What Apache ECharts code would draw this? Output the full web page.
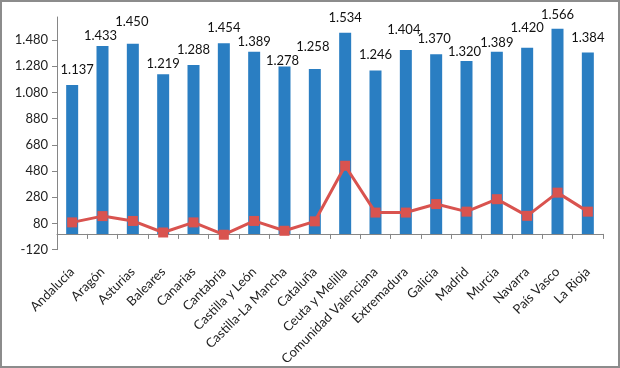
<!DOCTYPE html>
<html>
<head>
<meta charset="utf-8">
<script src="https://cdn.jsdelivr.net/npm/echarts@6/dist/echarts.min.js"></script>
<style>
html,body{margin:0;padding:0;background:#fff;}
#frame{box-sizing:border-box;width:620px;height:368px;border:2px solid #8c8c8c;position:relative;}
#chart{position:absolute;left:-2px;top:-2px;width:620px;height:368px;}
</style>
</head>
<body>
<div id="frame"><div id="chart"></div></div>
<script>
const categories = ["Andalucía","Aragón","Asturias","Baleares","Canarias","Cantabria","Castilla y León","Castilla-La Mancha","Cataluña","Ceuta y Melilla","Comunidad Valenciana","Extremadura","Galicia","Madrid","Murcia","Navarra","País Vasco","La Rioja"];
const barValues = [1137,1433,1450,1219,1288,1454,1389,1278,1258,1534,1246,1404,1370,1320,1389,1420,1566,1384];
const lineValues = [88,136,99,11,88,-6,99,24,96,520,163,163,228,170,265,138,315,170];
const yTickMin = -120;
const yTickInterval = 200;

// label nudges (style only): [dx, lift above bar top in px]
const labelNudge = [[5,14.7],[-2,10.7],[-1,22],[0,10],[0,15.7],[0,16],[0,10],[-2,5.7],[-2,22],[0,15],[0,16],[-2,20],[-2,15.3],[-2,8.7],[0,9.3],[0,20],[0,14.3],[0,14.7]];

function fmt(v){ return String(v).replace(/\B(?=(\d{3})+(?!\d))/g,'.'); }

const font = 'Lato';
const chart = echarts.init(document.getElementById('chart'), null, {renderer:'canvas'});
chart.setOption({
  animation:false,
  backgroundColor:'transparent',
  grid:{left:57,right:17,top:17,bottom:115,containLabel:false},
  xAxis:{
    type:'category',
    data:categories,
    axisLine:{onZero:true,lineStyle:{color:'#868686',width:1}},
    axisTick:{show:true,length:5,lineStyle:{color:'#868686'}},
    axisLabel:{rotate:45,margin:20,interval:0,color:'#222',fontFamily:font,fontSize:13}
  },
  yAxis:{
    type:'value',
    min:yTickMin,
    max:1655,
    interval:yTickInterval,
    splitLine:{show:false},
    axisLine:{show:true,lineStyle:{color:'#868686'}},
    axisTick:{show:true,length:5,lineStyle:{color:'#868686'}},
    axisLabel:{showMaxLabel:false,margin:9,color:'#222',fontFamily:font,fontSize:13,formatter:v=>fmt(v)}
  },
  series:[
    {
      type:'bar',
      data:barValues.map((v,i)=>({value:v,label:{offset:[labelNudge[i][0],-(labelNudge[i][1]-11.5)]}})),
      barWidth:12,
      itemStyle:{color:'#2a7ec2'},
      label:{show:true,position:'top',distance:5,color:'#111',fontFamily:font,fontSize:13,formatter:p=>fmt(p.value)}
    },
    {
      type:'line',
      data:lineValues,
      symbol:'rect',
      symbolSize:10,
      lineStyle:{color:'#d9534f',width:3},
      itemStyle:{color:'#d9534f'},
      z:3
    }
  ]
});
</script>
</body>
</html>
